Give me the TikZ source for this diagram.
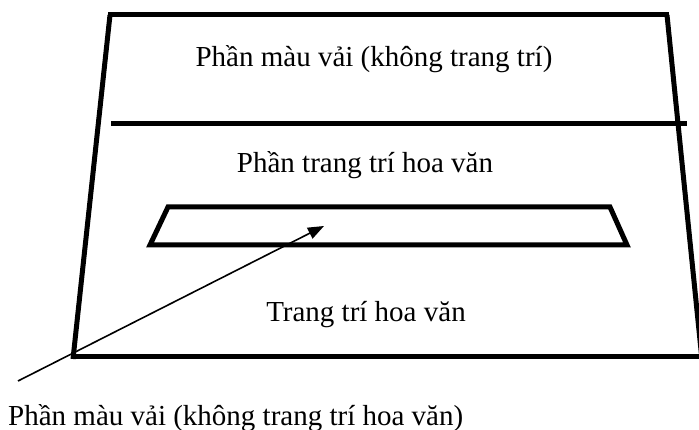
\documentclass[tikz,border=0pt]{standalone}
\usepackage{fontspec}
\setmainfont{Liberation Serif}
\usetikzlibrary{arrows.meta}

\begin{document}
\begin{tikzpicture}[
    x=1pt, y=-1pt,
    thickline/.style={line width=5pt},
    myarrow/.style={-{Triangle[length=16pt,width=12pt]}, line width=1.6pt},
    mylabel/.style={anchor=base, inner sep=0, font=\fontsize{29}{34}\selectfont},
]
\useasboundingbox (0,0) rectangle (699,430);

% Outer frame
\draw[thickline] (108,15) -- (669,15);
\draw[thickline] (110,15) -- (73,359);
\draw[thickline] (667,15) -- (702,360);
\draw[thickline] (71,357) -- (700,357);
\draw[thickline] (111,124) -- (687,124);

% Inner band
\draw[thickline] (168,207) -- (610,207) -- (627,245) -- (150,245) -- cycle;

% Nodes
\node[mylabel] (top) at (374,67) {Phần màu vải (không trang trí)};
\node[mylabel] (middle) at (365,173) {Phần trang trí hoa văn};
\node[mylabel] (bottom) at (366,322) {Trang trí hoa văn};
\node[mylabel, anchor=base west] (note) at (8,425) {Phần màu vải (không trang trí hoa văn)};

% Arrow
\coordinate (from) at (18,381);
\coordinate (to) at (324,226);
\draw[myarrow] (from) -- (to);

\end{tikzpicture}
\end{document}
